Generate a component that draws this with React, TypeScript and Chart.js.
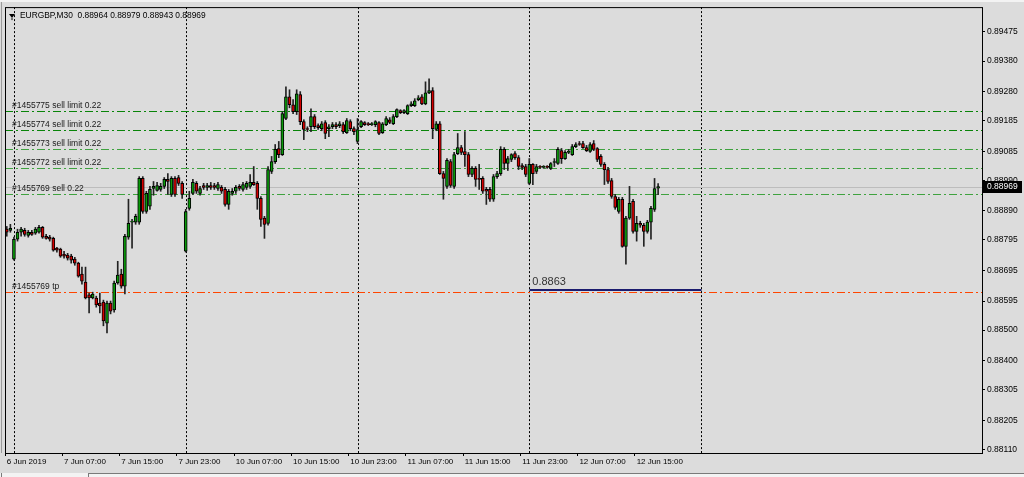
import React, { useEffect, useRef } from "react";
import { Chart, registerables } from "chart.js";

Chart.register(...registerables);

// ---- data (EURGBP M30 candles, bar 0 = 6 Jun 2019 23:00) ----
const opens = [
  0.8883, 0.88826, 0.88732, 0.88797, 0.8882, 0.88826, 0.8881, 0.8882, 0.88817, 0.8882,
  0.88836, 0.88807, 0.88804, 0.888, 0.88768, 0.88765, 0.88748, 0.88745, 0.88742, 0.88732,
  0.88719, 0.88683, 0.88657, 0.88615, 0.88605, 0.88605, 0.88588, 0.88592, 0.88523, 0.88588,
  0.88566, 0.88654, 0.88683, 0.88644, 0.88804, 0.88853, 0.88853, 0.88853, 0.88996, 0.88888,
  0.88905, 0.88963, 0.88957, 0.8896, 0.8897, 0.88993, 0.88944, 0.88996, 0.88999, 0.8898,
  0.88758, 0.88898, 0.88947, 0.8898, 0.88947, 0.88973, 0.88967, 0.88973, 0.88973, 0.88963,
  0.88967, 0.8896, 0.88911, 0.88947, 0.88954, 0.8897, 0.8896, 0.88967, 0.8897, 0.88983,
  0.8898, 0.88931, 0.88866, 0.88849, 0.89019, 0.89051, 0.89094, 0.89074, 0.89192, 0.89263,
  0.89237, 0.89214, 0.8927, 0.89182, 0.89159, 0.89165, 0.89198, 0.89169, 0.89159, 0.89179,
  0.89159, 0.89165, 0.89172, 0.89169, 0.89172, 0.89146, 0.89182, 0.89159, 0.89117, 0.89165,
  0.89179, 0.89175, 0.89172, 0.89172, 0.89179, 0.89146, 0.89172, 0.89188, 0.89175, 0.89198,
  0.89218, 0.89211, 0.89208, 0.89234, 0.89234, 0.89254, 0.89263, 0.8924, 0.89276, 0.89283,
  0.89156, 0.89175, 0.89012, 0.8897, 0.89051, 0.8897, 0.89077, 0.89097, 0.89084, 0.89074,
  0.89009, 0.89029, 0.88996, 0.88996, 0.8896, 0.8896, 0.88928, 0.89002, 0.89012, 0.89091,
  0.89045, 0.89058, 0.89077, 0.89064, 0.89038, 0.89035, 0.8898, 0.89042, 0.89019, 0.89035,
  0.89032, 0.89035, 0.89029, 0.89048, 0.89045, 0.89087, 0.89061, 0.89081, 0.89074, 0.891,
  0.8911, 0.8911, 0.89097, 0.89084, 0.8911, 0.89094, 0.89068, 0.89042, 0.89025, 0.88989,
  0.88937, 0.88888, 0.88928, 0.88774, 0.88866, 0.88921, 0.88823, 0.88849, 0.88843, 0.88823,
  0.88853, 0.88895, 0.88964,
];
const highs = [
  0.88839, 0.88846, 0.88804, 0.8883, 0.88836, 0.88833, 0.88826, 0.88826, 0.88836, 0.88843,
  0.88839, 0.88813, 0.8881, 0.88804, 0.88771, 0.88768, 0.88758, 0.88751, 0.88748, 0.88738,
  0.88722, 0.88706, 0.88706, 0.88621, 0.88624, 0.88611, 0.88621, 0.88598, 0.88595, 0.88595,
  0.8866, 0.88725, 0.88699, 0.88813, 0.88928, 0.88862, 0.88879, 0.89002, 0.89002, 0.88954,
  0.8897, 0.88986, 0.88983, 0.8898, 0.88999, 0.89012, 0.89002, 0.89002, 0.89006, 0.88986,
  0.88895, 0.88954, 0.88993, 0.88986, 0.8897, 0.8898, 0.8898, 0.88983, 0.8898, 0.88983,
  0.88973, 0.88967, 0.8896, 0.88963, 0.88973, 0.88976, 0.88983, 0.88986, 0.89009, 0.89035,
  0.88986, 0.88937, 0.88872, 0.89035, 0.89068, 0.89107, 0.89117, 0.89214, 0.89296, 0.89286,
  0.89254, 0.89286, 0.8928, 0.89188, 0.89165, 0.89224, 0.89205, 0.89175, 0.89182, 0.89185,
  0.89172, 0.89179, 0.89179, 0.89182, 0.89179, 0.89192, 0.89188, 0.89165, 0.89192, 0.89185,
  0.89182, 0.89179, 0.89179, 0.89185, 0.89182, 0.89179, 0.89198, 0.89195, 0.89205, 0.89224,
  0.89221, 0.89221, 0.89237, 0.89247, 0.89257, 0.89267, 0.8927, 0.89312, 0.89322, 0.89293,
  0.89182, 0.89182, 0.89019, 0.89061, 0.89058, 0.89081, 0.89143, 0.89104, 0.89149, 0.89081,
  0.89035, 0.89035, 0.89042, 0.89002, 0.88967, 0.88967, 0.89009, 0.89019, 0.891, 0.89097,
  0.89068, 0.89077, 0.89084, 0.89071, 0.89045, 0.89042, 0.89061, 0.89045, 0.89042, 0.89038,
  0.89038, 0.89038, 0.89048, 0.89061, 0.89097, 0.89094, 0.89087, 0.89091, 0.89107, 0.89113,
  0.89117, 0.89117, 0.89104, 0.89113, 0.8912, 0.89097, 0.89074, 0.89048, 0.89032, 0.88996,
  0.88944, 0.88934, 0.88934, 0.88872, 0.8897, 0.88928, 0.88872, 0.88856, 0.88849, 0.88859,
  0.88905, 0.88996, 0.88979,
];
const lows = [
  0.88807, 0.8882, 0.88729, 0.88791, 0.88807, 0.88807, 0.88804, 0.8881, 0.88813, 0.88817,
  0.888, 0.88797, 0.88791, 0.88758, 0.88755, 0.88738, 0.88735, 0.88729, 0.88719, 0.88712,
  0.88673, 0.8865, 0.88602, 0.88556, 0.88602, 0.88575, 0.88556, 0.88514, 0.88491, 0.88553,
  0.88559, 0.8865, 0.88637, 0.88618, 0.88797, 0.88768, 0.88846, 0.88846, 0.88882, 0.88882,
  0.88895, 0.88941, 0.88954, 0.88954, 0.88963, 0.88944, 0.88937, 0.88937, 0.88973, 0.88931,
  0.88755, 0.88892, 0.88944, 0.88947, 0.88941, 0.8896, 0.88957, 0.8896, 0.8896, 0.88957,
  0.88947, 0.88905, 0.88895, 0.88941, 0.88947, 0.88957, 0.88954, 0.8896, 0.88963, 0.88973,
  0.88895, 0.88839, 0.888, 0.88843, 0.89012, 0.89045, 0.89064, 0.89071, 0.89188, 0.89227,
  0.89208, 0.89205, 0.89172, 0.89123, 0.89149, 0.89149, 0.89159, 0.89156, 0.89152, 0.89126,
  0.89133, 0.89159, 0.89159, 0.89162, 0.89143, 0.89143, 0.89152, 0.89139, 0.8911, 0.89162,
  0.89169, 0.89169, 0.89169, 0.89165, 0.89139, 0.89143, 0.89169, 0.89175, 0.89172, 0.89195,
  0.89208, 0.89208, 0.89205, 0.89231, 0.89231, 0.8925, 0.89237, 0.89237, 0.89273, 0.89126,
  0.89152, 0.89009, 0.88928, 0.88963, 0.88967, 0.88963, 0.89074, 0.89074, 0.89035, 0.89002,
  0.89002, 0.8897, 0.8896, 0.88947, 0.88911, 0.88921, 0.88921, 0.88996, 0.89006, 0.89025,
  0.89022, 0.89051, 0.89058, 0.89025, 0.89025, 0.89002, 0.88976, 0.88976, 0.89012, 0.89029,
  0.89029, 0.89029, 0.89025, 0.89035, 0.89042, 0.89045, 0.89058, 0.89077, 0.89071, 0.89097,
  0.89104, 0.89094, 0.89084, 0.89081, 0.89087, 0.89051, 0.89035, 0.88976, 0.8898, 0.88931,
  0.88895, 0.88882, 0.88771, 0.88716, 0.88862, 0.88817, 0.88791, 0.88836, 0.88774, 0.88817,
  0.88797, 0.88888, 0.88943,
];
const closes = [
  0.8882, 0.88833, 0.88797, 0.8882, 0.8883, 0.88813, 0.8882, 0.88813, 0.8883, 0.88836,
  0.88804, 0.888, 0.88797, 0.88761, 0.88761, 0.88742, 0.88742, 0.88735, 0.88729, 0.88719,
  0.88676, 0.8866, 0.88605, 0.88605, 0.88618, 0.88582, 0.88579, 0.8853, 0.88588, 0.88562,
  0.88654, 0.8868, 0.88644, 0.88807, 0.88849, 0.88856, 0.88872, 0.88996, 0.88888, 0.88947,
  0.8896, 0.8897, 0.88973, 0.8897, 0.88993, 0.88986, 0.88996, 0.88944, 0.8898, 0.88944,
  0.88888, 0.88931, 0.88983, 0.88954, 0.88963, 0.88967, 0.88973, 0.88967, 0.88967, 0.88976,
  0.88954, 0.88911, 0.88954, 0.88954, 0.88967, 0.88963, 0.88976, 0.8898, 0.88983, 0.88976,
  0.88931, 0.88862, 0.88846, 0.89025, 0.89051, 0.89091, 0.89074, 0.89208, 0.89263, 0.89237,
  0.89214, 0.89273, 0.89182, 0.89156, 0.89156, 0.89198, 0.89165, 0.89162, 0.89175, 0.89143,
  0.89165, 0.89172, 0.89165, 0.89175, 0.89149, 0.89185, 0.89159, 0.89149, 0.89156, 0.89182,
  0.89172, 0.89172, 0.89175, 0.89182, 0.89143, 0.89175, 0.89192, 0.89179, 0.89198, 0.89221,
  0.89211, 0.89218, 0.89234, 0.8924, 0.8925, 0.8926, 0.8924, 0.89276, 0.89283, 0.89159,
  0.89175, 0.89012, 0.88996, 0.89055, 0.88973, 0.89074, 0.89097, 0.89081, 0.89074, 0.89009,
  0.89029, 0.88993, 0.88993, 0.88954, 0.88954, 0.88928, 0.89002, 0.89012, 0.89091, 0.89045,
  0.89061, 0.89074, 0.89064, 0.89035, 0.89032, 0.89009, 0.89042, 0.89012, 0.89035, 0.89032,
  0.89035, 0.89032, 0.89045, 0.89051, 0.89091, 0.89061, 0.89081, 0.89084, 0.891, 0.89107,
  0.89107, 0.89097, 0.89087, 0.89107, 0.89091, 0.89058, 0.89042, 0.89025, 0.88986, 0.88937,
  0.88901, 0.88928, 0.88774, 0.88866, 0.88915, 0.88823, 0.88849, 0.88843, 0.88823, 0.88853,
  0.88898, 0.88963, 0.88969,
];

const slotCount = 273; // bar slots visible in the window (data + empty right margin)
const tickEvery = 16;
const tickLabels = [
  "6 Jun 2019", "7 Jun 07:00", "7 Jun 15:00", "7 Jun 23:00", "10 Jun 07:00", "10 Jun 15:00",
  "10 Jun 23:00", "11 Jun 07:00", "11 Jun 15:00", "11 Jun 23:00", "12 Jun 07:00", "12 Jun 15:00",
];
const priceTicks = [
  0.8811, 0.88205, 0.88305, 0.884, 0.885, 0.88595, 0.88695, 0.88795,
  0.8889, 0.8899, 0.89085, 0.89185, 0.8928, 0.8938, 0.89475,
];
const yMin = 0.88098;
const yMax = 0.895564;

const orderLevels = [0.89217, 0.89153, 0.89093, 0.8903, 0.88945];
const orderLabels = [
  "#1455775 sell limit 0.22",
  "#1455774 sell limit 0.22",
  "#1455773 sell limit 0.22",
  "#1455772 sell limit 0.22",
  "#1455769 sell 0.22",
];
const orderColors = ["#088408", "#088408", "#3fa23f", "#3fa23f", "#3fa23f"];
const tpLevel = 0.88626;
const tpLabel = "#1455769 tp";
const tpColor = "#ff4500";
const trendLevel = 0.88632;
const trendLabel = "0.8863";
const trendFrom = 146;
const trendTo = 194;
const bidPrice = 0.88969;
const separatorBars = [2, 50, 98, 146, 194];
const headerText = "EURGBP,M30  0.88964 0.88979 0.88943 0.88969";

const BULL = "#0b9a0b";
const BEAR = "#d20000";
const FONT = "'Liberation Sans', Arial, sans-serif";

const crisp = (p: number) => Math.round(p) + 0.5;

const decor = {
  id: "decor",
  beforeDraw(chart: any) {
    const { ctx, width, height } = chart;
    ctx.save();
    ctx.fillStyle = "#dcdcdc";
    ctx.fillRect(0, 0, width, height);
    ctx.fillStyle = "#f3f3f3";
    ctx.fillRect(0, 0, width, 2);
    ctx.fillRect(0, 473, width, height - 473);
    ctx.strokeStyle = "#7a7a7a";
    ctx.lineWidth = 1;
    ctx.beginPath();
    ctx.moveTo(88, 473.5);
    ctx.lineTo(width, 473.5);
    ctx.moveTo(88.5, 473);
    ctx.lineTo(88.5, height);
    ctx.moveTo(1.5, 473);
    ctx.lineTo(1.5, height);
    ctx.stroke();
    ctx.restore();
  },
  beforeDatasetsDraw(chart: any) {
    const { ctx, chartArea: a, scales } = chart;
    const xs = scales.x;
    const ys = scales.y;
    ctx.save();
    ctx.lineWidth = 1;
    // day separators
    ctx.strokeStyle = "#000";
    ctx.setLineDash([2, 2]);
    separatorBars.forEach((b) => {
      const x = crisp(xs.getPixelForValue(b));
      ctx.beginPath();
      ctx.moveTo(x, a.top);
      ctx.lineTo(x, a.bottom);
      ctx.stroke();
    });
    // bid line
    ctx.setLineDash([]);
    ctx.strokeStyle = "#bdbdbd";
    let py = crisp(ys.getPixelForValue(bidPrice));
    ctx.beginPath();
    ctx.moveTo(a.left, py);
    ctx.lineTo(a.right, py);
    ctx.stroke();
    // order levels
    ctx.setLineDash([8, 3, 2, 3]);
    orderLevels.forEach((lv, i) => {
      ctx.strokeStyle = orderColors[i];
      const y = crisp(ys.getPixelForValue(lv));
      ctx.beginPath();
      ctx.moveTo(a.left, y);
      ctx.lineTo(a.right, y);
      ctx.stroke();
    });
    ctx.strokeStyle = tpColor;
    py = crisp(ys.getPixelForValue(tpLevel));
    ctx.beginPath();
    ctx.moveTo(a.left, py);
    ctx.lineTo(a.right, py);
    ctx.stroke();
    // trend segment
    ctx.setLineDash([]);
    ctx.strokeStyle = "#1b1b6e";
    ctx.lineWidth = 2;
    py = Math.round(ys.getPixelForValue(trendLevel));
    ctx.beginPath();
    ctx.moveTo(crisp(xs.getPixelForValue(trendFrom)), py);
    ctx.lineTo(crisp(xs.getPixelForValue(trendTo)), py);
    ctx.stroke();
    ctx.restore();
  },
  afterDatasetsDraw(chart: any) {
    const { ctx, chartArea: a, scales } = chart;
    const y = scales.y;
    ctx.save();
    ctx.fillStyle = "#1a1a1a";
    ctx.font = `8.5px ${FONT}`;
    ctx.textBaseline = "middle";
    ctx.textAlign = "left";
    orderLevels.forEach((lv, i) => {
      ctx.fillText(orderLabels[i], a.left + 7, Math.round(y.getPixelForValue(lv)) - 5);
    });
    ctx.fillText(tpLabel, a.left + 7, Math.round(y.getPixelForValue(tpLevel)) - 5);
    ctx.font = `11px ${FONT}`;
    ctx.fillStyle = "#333";
    ctx.fillText(trendLabel, scales.x.getPixelForValue(trendFrom) + 3, Math.round(y.getPixelForValue(trendLevel)) - 8);
    // header
    ctx.fillStyle = "#000";
    ctx.beginPath();
    ctx.moveTo(a.left + 4, a.top + 7);
    ctx.lineTo(a.left + 10, a.top + 7);
    ctx.lineTo(a.left + 7, a.top + 11);
    ctx.closePath();
    ctx.fill();
    ctx.fillRect(a.left + 6.5, a.top + 11, 1, 2);
    ctx.font = `8.4px ${FONT}`;
    ctx.fillText(headerText, a.left + 15, a.top + 9);
    // frame
    ctx.strokeStyle = "#000";
    ctx.lineWidth = 1;
    ctx.strokeRect(a.left + 0.5, a.top + 0.5, a.right - a.left, a.bottom - a.top);
    ctx.strokeStyle = "#9a9a9a";
    ctx.beginPath();
    ctx.moveTo(1.5, 2);
    ctx.lineTo(1.5, a.bottom);
    ctx.stroke();
    ctx.restore();
  },
  afterDraw(chart: any) {
    const { ctx, chartArea: a, scales } = chart;
    const py = Math.round(scales.y.getPixelForValue(bidPrice));
    ctx.save();
    ctx.fillStyle = "#000";
    ctx.fillRect(a.right + 1, py - 6, 39, 12);
    ctx.fillStyle = "#fff";
    ctx.font = `8.5px ${FONT}`;
    ctx.textBaseline = "middle";
    ctx.textAlign = "left";
    ctx.fillText(bidPrice.toFixed(5), a.right + 5, py);
    ctx.restore();
  },
};

export default function App() {
  const ref = useRef<HTMLCanvasElement>(null);

  useEffect(() => {
    const canvas = ref.current;
    if (!canvas) return;
    const labels = Array.from({ length: slotCount }, (_, i) => String(i));
    const bodies = opens.map((o, i) => [o, closes[i]]);
    const wicks = lows.map((l, i) => [l, highs[i]]);
    const bodyColors = opens.map((o, i) => (closes[i] >= o ? BULL : BEAR));

    const chart = new Chart(canvas, {
      type: "bar",
      data: {
        labels,
        datasets: [
          {
            data: wicks as any,
            backgroundColor: "#222222",
            barThickness: 1,
            grouped: false,
            order: 3,
          },
          {
            data: bodies as any,
            backgroundColor: bodyColors,
            borderColor: "#000",
            borderWidth: 1,
            borderSkipped: false,
            barThickness: 3,
            minBarLength: 1,
            grouped: false,
            order: 1,
          },
        ],
      },
      options: {
        responsive: false,
        animation: false,
        events: [],
        layout: { padding: { left: 5, top: 4, right: 0, bottom: 0 } },
        plugins: { legend: { display: false }, tooltip: { enabled: false }, title: { display: false } },
        scales: {
          x: {
            type: "category",
            offset: true,
            border: { display: false },
            grid: {
              drawOnChartArea: false,
              drawTicks: true,
              tickLength: 3,
              color: (c: any) => (c.index % tickEvery === 0 && c.index / tickEvery < tickLabels.length ? "#000" : "rgba(0,0,0,0)"),
            },
            ticks: {
              autoSkip: false,
              maxRotation: 0,
              minRotation: 0,
              align: "start",
              padding: 1,
              color: "#000",
              font: { family: FONT, size: 8 },
              callback: (_v: any, i: number) =>
                i % tickEvery === 0 && i / tickEvery < tickLabels.length ? tickLabels[i / tickEvery] : "",
            },
            afterFit: (s: any) => {
              s.height = 24;
            },
          },
          y: {
            type: "linear",
            position: "right",
            min: yMin,
            max: yMax,
            border: { display: false },
            grid: { drawOnChartArea: false, drawTicks: true, tickLength: 3, color: "#000" },
            afterBuildTicks: (s: any) => {
              s.ticks = priceTicks.map((v) => ({ value: v }));
            },
            ticks: {
              padding: 2,
              color: "#000",
              font: { family: FONT, size: 8.5 },
              callback: (v: any) => Number(v).toFixed(5),
            },
            afterFit: (s: any) => {
              s.width = 42;
            },
          },
        },
      },
      plugins: [decor],
    });

    return () => chart.destroy();
  }, []);

  return (
    <div style={{ position: "absolute", left: 0, top: 0, width: 1024, height: 477 }}>
      <canvas ref={ref} width={1024} height={477} style={{ display: "block" }} />
    </div>
  );
}
